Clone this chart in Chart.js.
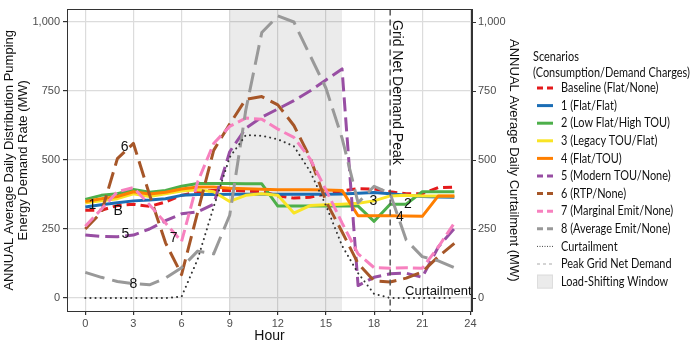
<!DOCTYPE html>
<html><head><meta charset="utf-8">
<script src="https://cdn.jsdelivr.net/npm/chart.js@4/dist/chart.umd.min.js"></script>
<style>html,body{margin:0;padding:0;background:#fff}#wrap{width:691px;height:344px;position:relative}</style>
</head><body><div id="wrap"><canvas id="c" width="691" height="344"></canvas></div>
<script>
const hours = [0,1,2,3,4,5,6,7,8,9,10,11,12,13,14,15,16,17,18,19,20,21,22,23];
const baseline = [318,318,335,340,332,348,372,385,390,390,388,385,370,362,365,378,388,396,395,385,378,378,400,402];
const s1 = [330,338,345,352,355,360,372,375,375,376,376,376,376,376,376,376,377,380,382,378,372,368,366,365];
const s2 = [357,372,378,393,383,390,405,415,415,415,414,414,333,333,333,333,333,333,278,340,340,385,385,385];
const s3 = [345,352,360,378,368,378,388,392,385,350,372,378,372,308,335,338,340,343,352,370,372,370,370,370];
const s4 = [350,360,368,385,377,383,395,402,402,398,396,394,392,392,392,391,390,298,298,298,297,296,370,370];
const s5 = [228,223,222,228,250,280,305,312,340,530,615,655,685,715,750,790,830,45,75,88,90,75,185,252];
const s6 = [250,310,505,560,375,200,85,310,535,630,720,730,700,625,510,350,240,125,62,58,72,95,150,198];
const s7 = [260,322,385,400,338,272,205,420,560,622,652,648,612,582,505,392,272,160,110,108,110,108,185,272];
const s8 = [93,75,60,52,48,72,110,170,160,300,680,962,1022,1000,880,760,580,345,405,378,210,150,135,110];
const curtailment = [0,0,0,0,0,0,5,140,330,510,590,588,575,550,460,335,190,90,15,0,0,0,0,0];

const seriesNames = ['Baseline (Flat/None)','1 (Flat/Flat)','2 (Low Flat/High TOU)','3 (Legacy TOU/Flat)','4 (Flat/TOU)','5 (Modern TOU/None)','6 (RTP/None)','7 (Marginal Emit/None)','8 (Average Emit/None)'];
const seriesValues = [baseline,s1,s2,s3,s4,s5,s6,s7,s8];
const seriesColors = ['#E41A1C','#1B6DB5','#4DAF4A','#F9E425','#FF7F00','#984EA3','#A65628','#F781BF','#999999'];
const seriesDashes = [[9,5],[],[],[],[],[14,6],[17,7],[12,5],[20,8]];

const xTicks = [0,3,6,9,12,15,18,21,24];
const yTicks = [0,250,500,750,1000];
const windowStart = 9, windowEnd = 16;
const peakHour = 19;

const labelTexts = ['1','B','6','5','7','8','3','2','4'];
const labelHours = [0.45,2.05,2.45,2.5,5.5,3.0,17.95,20.1,19.6];
const labelValues = [335,315,548,230,218,52,350,340,293];

const FONT = "'Liberation Sans', Arial, sans-serif";
const LFONT = "Lato, 'Open Sans', sans-serif";

const datasets = seriesNames.map((n,i)=>({
  label:n, data: hours.map((h,k)=>({x:h,y:seriesValues[i][k]})),
  borderColor: seriesColors[i], backgroundColor: seriesColors[i], borderWidth:3,
  borderDash: seriesDashes[i], pointRadius:0, fill:false, tension:0, yAxisID:'y', order:-i,
  borderCapStyle:'butt', borderJoinStyle:'round'
}));
datasets.push({label:'Curtailment', data: hours.map((h,k)=>({x:h,y:curtailment[k]})),
  borderColor:'#333', borderWidth:2, borderDash:[0.1,5], borderCapStyle:'round', pointRadius:0, fill:false, yAxisID:'y2', order:-20});

const shade = {id:'shade', beforeDatasetsDraw(chart){
  const {ctx, chartArea:a, scales:{x}} = chart;
  ctx.save(); ctx.fillStyle='rgba(0,0,0,0.08)';
  const x0=x.getPixelForValue(windowStart), x1=x.getPixelForValue(windowEnd);
  ctx.fillRect(x0,a.top,x1-x0,a.bottom-a.top); ctx.restore();
}};

const overlay = {id:'overlay', afterDatasetsDraw(chart){
  const {ctx, chartArea:a, scales:{x,y}} = chart;
  ctx.save();
  const px = x.getPixelForValue(peakHour);
  ctx.strokeStyle='#555'; ctx.lineWidth=1.5; ctx.setLineDash([6,4]);
  ctx.beginPath(); ctx.moveTo(px,a.top); ctx.lineTo(px,a.bottom); ctx.stroke();
  ctx.setLineDash([]);
  ctx.fillStyle='#111'; ctx.font='14px '+FONT; ctx.textAlign='center'; ctx.textBaseline='middle';
  labelTexts.forEach((t,i)=>ctx.fillText(t, x.getPixelForValue(labelHours[i]), y.getPixelForValue(labelValues[i])));
  ctx.font='13px '+FONT;
  ctx.fillText('Curtailment', x.getPixelForValue(22.0), y.getPixelForValue(25));
  ctx.save();
  ctx.translate(x.getPixelForValue(19.4), y.getPixelForValue(745));
  ctx.rotate(Math.PI/2); ctx.font='14px '+FONT;
  ctx.fillText('Grid Net Demand Peak',0,0);
  ctx.restore();
  ctx.strokeStyle='#333'; ctx.lineWidth=1;
  ctx.strokeRect(Math.round(a.left)+0.5, Math.round(a.top)-0.5, Math.round(a.right-a.left)-1, Math.round(a.bottom-a.top)+1);
  ctx.restore();
}};

const legend = {id:'legendCustom', afterDraw(chart){
  const ctx = chart.ctx; ctx.save();
  const lx = 533, kx0 = 537, kx1 = 553, tx = 561;
  ctx.fillStyle='#111'; ctx.font='13px '+LFONT; ctx.textAlign='left'; ctx.textBaseline='middle';
  const k = Math.min(1, 157 / ctx.measureText('(Consumption/Demand Charges)').width);
  const txt = (t, x0, y0) => { ctx.save(); ctx.translate(x0, y0); ctx.scale(k, 1); ctx.fillText(t, 0, 0); ctx.restore(); };
  txt('Scenarios', lx, 57);
  txt('(Consumption/Demand Charges)', lx, 73);
  const step = 17.6; let yy = 88;
  seriesNames.forEach((n,i)=>{
    ctx.strokeStyle = seriesColors[i]; ctx.lineWidth=3;
    ctx.setLineDash(seriesDashes[i].length? [6,4]:[]);
    ctx.beginPath(); ctx.moveTo(kx0,yy); ctx.lineTo(kx1,yy); ctx.stroke();
    ctx.setLineDash([]);
    txt(n, tx, yy); yy += step;
  });
  ctx.strokeStyle='#444'; ctx.lineWidth=1; ctx.setLineDash([1,1.5]);
  ctx.beginPath(); ctx.moveTo(kx0,yy); ctx.lineTo(kx1,yy); ctx.stroke();
  txt('Curtailment', tx, yy); yy += step;
  ctx.strokeStyle='#aaa'; ctx.setLineDash([3,3]);
  ctx.beginPath(); ctx.moveTo(kx0,yy); ctx.lineTo(kx1,yy); ctx.stroke();
  ctx.setLineDash([]);
  txt('Peak Grid Net Demand', tx, yy); yy += step;
  ctx.fillStyle='#EBEBEB'; ctx.fillRect(kx0, yy-7, 16, 14);
  ctx.strokeStyle='#ddd'; ctx.strokeRect(kx0+0.5, yy-6.5, 15, 13);
  ctx.fillStyle='#111'; txt('Load-Shifting Window', tx, yy);
  ctx.restore();
}};

const gridOpts = {color:'#DCDCDC', lineWidth:1.2, tickColor:'#333', tickLength:4, drawTicks:true};
const tickFont = {family:FONT, size:11};
const fmt = v => Number(v).toLocaleString('en-US');

new Chart(document.getElementById('c'), {
  type:'line',
  data:{datasets},
  options:{
    responsive:false, animation:false, devicePixelRatio:1,
    layout:{padding:{left:0,top:3,right:166,bottom:0}},
    plugins:{legend:{display:false}, tooltip:{enabled:false}},
    scales:{
      x:{type:'linear', min:-1.14, max:24.1,
        afterBuildTicks:s=>{s.ticks = xTicks.map(v=>({value:v}));},
        afterFit:s=>{s.height=33;},
        ticks:{font:tickFont, color:'#4D4D4D', padding:2, maxRotation:0, autoSkip:false, callback:fmt},
        grid:gridOpts, border:{color:'#333', width:1},
        title:{display:true, text:'Hour', font:{family:FONT,size:14,lineHeight:'16px'}, color:'#111', padding:{top:0,bottom:0}}},
      y:{type:'linear', position:'left', min:-47, max:1045,
        afterBuildTicks:s=>{s.ticks = yTicks.map(v=>({value:v}));},
        afterFit:s=>{s.width=67;},
        ticks:{font:tickFont, color:'#4D4D4D', padding:3, callback:fmt},
        grid:gridOpts, border:{color:'#333', width:1},
        title:{display:true, text:['ANNUAL Average Daily Distribution Pumping','Energy Demand Rate (MW)'], font:{family:FONT,size:13,lineHeight:'14px'}, color:'#111', padding:{top:2,bottom:0}}},
      y2:{type:'linear', position:'right', min:-47, max:1045,
        afterBuildTicks:s=>{s.ticks = yTicks.map(v=>({value:v}));},
        afterFit:s=>{s.width=53;},
        ticks:{font:tickFont, color:'#4D4D4D', padding:2, callback:fmt},
        grid:{drawOnChartArea:false, tickColor:'#333', tickLength:4}, border:{color:'#333', width:1},
        title:{display:true, text:'ANNUAL Average Daily Curtailment (MW)', font:{family:FONT,size:13,lineHeight:'15px'}, color:'#111', padding:{top:4,bottom:0}}}
    }
  },
  plugins:[shade, overlay, legend]
});
</script></body></html>
